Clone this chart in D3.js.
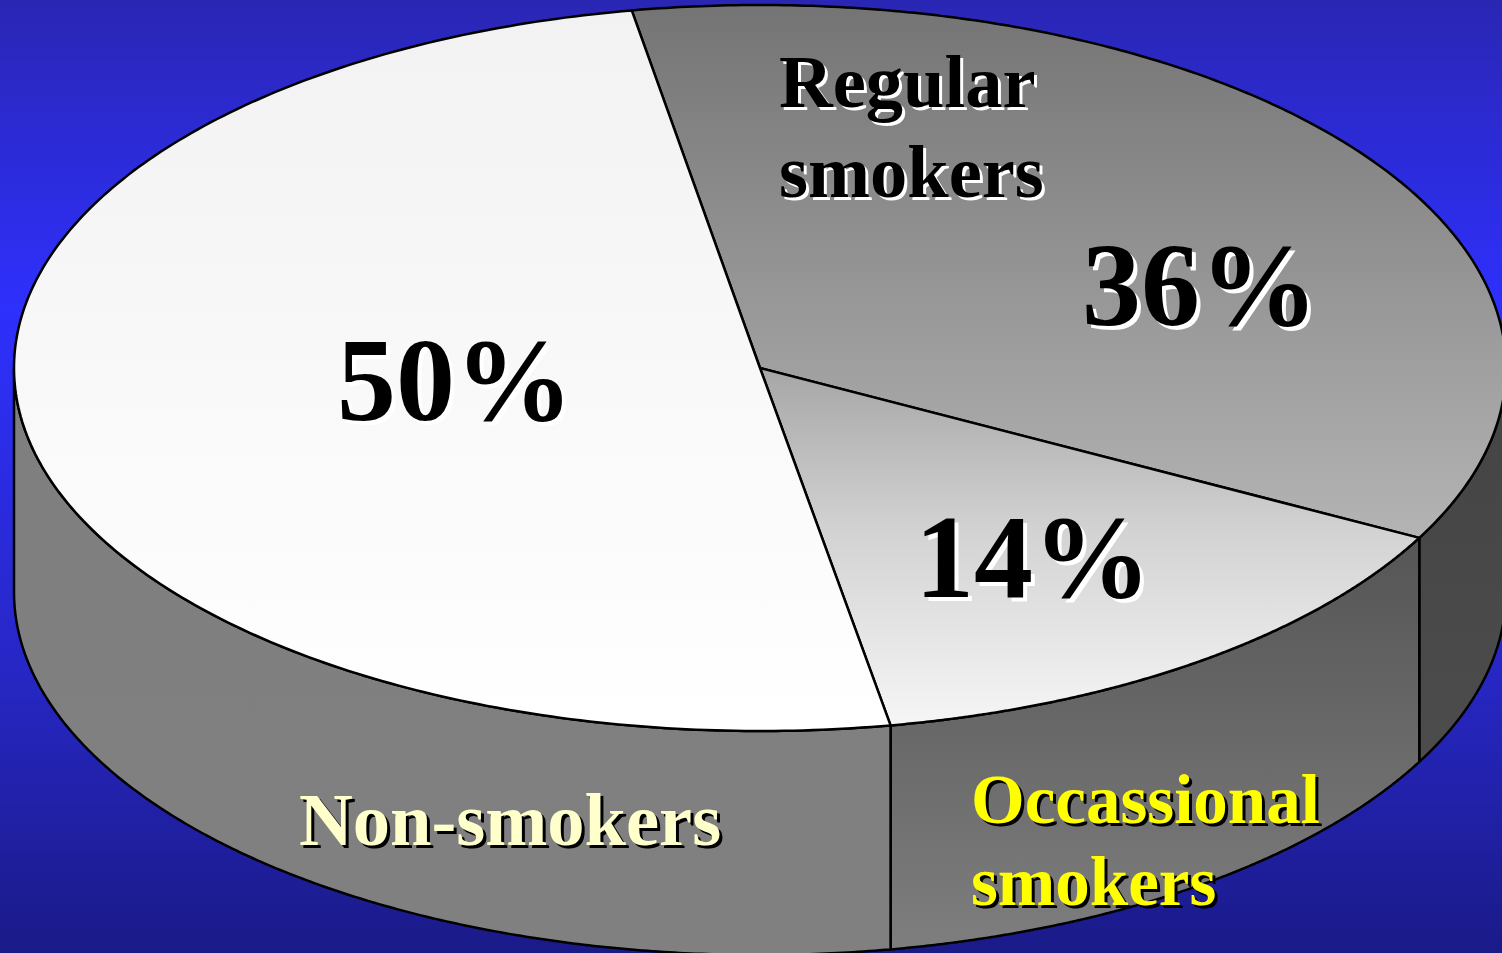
<!DOCTYPE html>
<html><head><meta charset="utf-8">
<script src="https://cdnjs.cloudflare.com/ajax/libs/d3/7.8.5/d3.min.js"></script>
<style>html,body{margin:0;padding:0;background:#1b1b8b;overflow:hidden}svg{display:block}</style>
</head><body><svg id="c" width="1502" height="953"></svg>
<script>
const categories = ["Non-smokers", "Regular smokers", "Occassional smokers"];
const sliceShares = [50.05, 35.5, 14.45];
const percentLabels = ["50%", "36%", "14%"];
const topStops = [[[0,"#f2f2f2"],[1,"#ffffff"]],[[0,"#747474"],[1,"#b4b4b4"]],[[0,"#a6a6a6"],[0.45,"#d2d2d2"],[1,"#f6f6f6"]]];
const sideStops = [[[0,"#7f7f7f"],[1,"#808080"]],[[0,"#444444"],[1,"#4c4c4c"]],[[0,"#555555"],[1,"#7e7e7e"]]];

const W=1502,H=953,cx=760,cy=368,rx=746,ry=363,depth=224;
const svg=d3.select("#c");
const defs=svg.append("defs");
function grad(id,stops){
  const g=defs.append("linearGradient").attr("id",id).attr("x1",0).attr("y1",0).attr("x2",0).attr("y2",1);
  stops.forEach(s=>g.append("stop").attr("offset",s[0]).attr("stop-color",s[1]));
}
grad("bg",[[0,"#2a26b4"],[0.32,"#2e30fc"],[0.7,"#2727c6"],[1,"#1a1a88"]]);
svg.append("rect").attr("width",W).attr("height",H).attr("fill","url(#bg)");

const start=-9.9*Math.PI/180;
const pie=d3.pie().sort(null).startAngle(start).endAngle(start+2*Math.PI);
// order clockwise from the top-left edge: regular, occasional, non-smokers
const order=[1,2,0];
const arcs=pie(order.map(i=>sliceShares[i])).map((a,k)=>({...a,idx:order[k]}));

const sx=d3.scaleLinear().domain([-1,1]).range([cx-rx,cx+rx]);
const sy=d3.scaleLinear().domain([-1,1]).range([cy-ry,cy+ry]);
const samples=(t0,t1)=>d3.range(0,241).map(i=>t0+(t1-t0)*i/240);

// side wall, drawn from the visible part of every slice
const vis0=Math.PI/2, vis1=3*Math.PI/2;
const area=d3.area().x(t=>sx(Math.sin(t))).y0(t=>sy(-Math.cos(t))).y1(t=>sy(-Math.cos(t))+depth);
arcs.forEach(a=>{
  const t0=Math.max(a.startAngle,vis0), t1=Math.min(a.endAngle,vis1);
  if(t1<=t0) return;
  grad("side"+a.idx,sideStops[a.idx]);
  svg.append("path").attr("d",area(samples(t0,t1))).attr("fill",`url(#side${a.idx})`)
    .attr("stroke","#000").attr("stroke-width",2.5).attr("stroke-linejoin","round");
});

// top face
const line=d3.line().x(d=>d[0]).y(d=>d[1]);
arcs.forEach(a=>{
  grad("top"+a.idx,topStops[a.idx]);
  const pts=[[sx(0),sy(0)]].concat(samples(a.startAngle,a.endAngle).map(t=>[sx(Math.sin(t)),sy(-Math.cos(t))]));
  svg.append("path").attr("d",line(pts)+"Z").attr("fill",`url(#top${a.idx})`)
    .attr("stroke","#000").attr("stroke-width",2.5).attr("stroke-linejoin","round");
});

// labels: one text each, with a hard offset shadow
const font="'Liberation Serif','Times New Roman',serif";
function label(txt,x,y,size,fill,shadow,off){
  svg.append("text").attr("x",x).attr("y",y).attr("fill",fill).text(txt)
    .attr("font-family",font).attr("font-weight",700).attr("font-size",size)
    .style("filter",`drop-shadow(${off}px ${off}px 0 ${shadow})`);
}
const regular=categories[1].split(" "), occ=categories[2].split(" ");
label(regular[0],779,107,74.5,"#000","#fff",3);
label(regular[1],779,197,74.5,"#000","#fff",3);
label(percentLabels[1],1082,325,118,"#000","#fff",4);
label(percentLabels[0],337,420,118,"#000","#fff",4);
label(percentLabels[2],915,597,118,"#000","#fff",4);
label(categories[0],299,845,74.5,"#ffffcc","#000",3);
label(occ[0],971,823,69,"#ffff00","#000",3);
label(occ[1],971,905,69,"#ffff00","#000",3);
</script></body></html>
